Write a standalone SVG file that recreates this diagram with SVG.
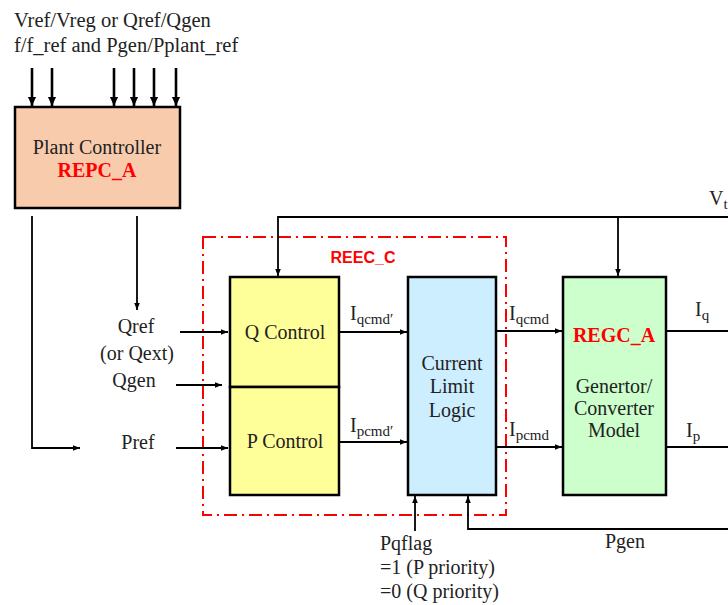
<svg xmlns="http://www.w3.org/2000/svg" width="728" height="605" viewBox="0 0 728 605">
<defs>
<style>
.t{font-family:"Liberation Serif","Times New Roman",serif;font-size:20px;fill:#222}
.c{text-anchor:middle}
.red{fill:#f00;font-weight:bold}
.box{stroke:#000;stroke-width:2.5}
.ln{stroke:#000;stroke-width:1.8;fill:none}
.thick{stroke:#000;stroke-width:2.6;fill:none}
.sub{font-size:15px}
</style>
<marker id="ah" viewBox="0 0 10 10" refX="10" refY="5" markerWidth="4" markerHeight="4" orient="auto" markerUnits="strokeWidth">
<path d="M0,1 L10,5 L0,9 z" fill="#000"/>
</marker>
<marker id="ahb" viewBox="0 0 10 10" refX="10" refY="5" markerWidth="3.6" markerHeight="3.6" orient="auto" markerUnits="strokeWidth">
<path d="M0,0.5 L10,5 L0,9.5 z" fill="#000"/>
</marker>
</defs>
<rect width="728" height="605" fill="#fff"/>

<g id="title-text">
<text class="t" x="14" y="27" style="font-size:20.5px">Vref/Vreg or Qref/Qgen</text>
<text class="t" x="14" y="52" style="font-size:20.5px">f/f_ref and Pgen/Pplant_ref</text>
</g>

<g id="reec-frame">
<rect x="203" y="237" width="303" height="278" fill="none" stroke="#f00" stroke-width="2" stroke-dasharray="13,5,2,5"/>
<text x="363" y="263" text-anchor="middle" style="font-family:'Liberation Sans',Arial,sans-serif;font-size:16px;font-weight:bold;fill:#f00">REEC_C</text>
</g>

<g id="connectors">
<line class="thick" x1="32" y1="68" x2="32" y2="106" marker-end="url(#ahb)"/>
<line class="thick" x1="52" y1="68" x2="52" y2="106" marker-end="url(#ahb)"/>
<line class="thick" x1="114" y1="68" x2="114" y2="106" marker-end="url(#ahb)"/>
<line class="thick" x1="134" y1="68" x2="134" y2="106" marker-end="url(#ahb)"/>
<line class="thick" x1="154" y1="68" x2="154" y2="106" marker-end="url(#ahb)"/>
<line class="thick" x1="176" y1="68" x2="176" y2="106" marker-end="url(#ahb)"/>
<polyline class="ln" points="32,216 32,448 80,448" marker-end="url(#ah)"/>
<line class="ln" x1="137" y1="216" x2="137" y2="310" marker-end="url(#ah)"/>
<line class="ln" x1="180" y1="332" x2="228" y2="332" marker-end="url(#ah)"/>
<line class="ln" x1="176" y1="385" x2="222" y2="385" marker-end="url(#ah)"/>
<line class="ln" x1="176" y1="448" x2="228" y2="448" marker-end="url(#ah)"/>
<polyline class="ln" points="728,217 278,217 278,276" marker-end="url(#ah)"/>
<line class="ln" x1="618" y1="217" x2="618" y2="276" marker-end="url(#ah)"/>
<line class="ln" x1="340" y1="332" x2="407" y2="332" marker-end="url(#ah)"/>
<line class="ln" x1="340" y1="442" x2="407" y2="442" marker-end="url(#ah)"/>
<line class="ln" x1="497" y1="331" x2="562" y2="331" marker-end="url(#ah)"/>
<line class="ln" x1="497" y1="447" x2="562" y2="447" marker-end="url(#ah)"/>
<line class="ln" x1="667" y1="331" x2="728" y2="331"/>
<line class="ln" x1="667" y1="447" x2="728" y2="447"/>
<line class="ln" x1="415" y1="531" x2="415" y2="496" marker-end="url(#ah)"/>
<polyline class="ln" points="728,529 468,529 468,496" marker-end="url(#ah)"/>
</g>

<g id="plant-controller">
<rect class="box" x="15" y="107" width="165" height="101" fill="#f8cbad"/>
<text class="t c" x="97" y="154">Plant Controller</text>
<text class="t c red" x="97" y="177">REPC_A</text>
</g>

<g id="q-control">
<rect class="box" x="230" y="277" width="109" height="110" fill="#ffff99"/>
<text class="t c" x="285" y="339">Q Control</text>
</g>

<g id="p-control">
<rect class="box" x="230" y="387" width="109" height="108" fill="#ffff99"/>
<text class="t c" x="285" y="448">P Control</text>
</g>

<g id="current-limit-logic">
<rect class="box" x="408" y="277" width="88" height="218" fill="#cceeff"/>
<text class="t c" x="452" y="370">Current</text>
<text class="t c" x="452" y="393">Limit</text>
<text class="t c" x="452" y="417">Logic</text>
</g>

<g id="regc-a">
<rect class="box" x="563" y="277" width="103" height="218" fill="#ccffcc"/>
<text class="t c red" x="614" y="342">REGC_A</text>
<text class="t c" x="614" y="393">Genertor/</text>
<text class="t c" x="614" y="415">Converter</text>
<text class="t c" x="614" y="437">Model</text>
</g>

<g id="labels">
<text class="t c" x="136" y="333">Qref</text>
<text class="t c" x="137" y="360">(or Qext)</text>
<text class="t c" x="134" y="387">Qgen</text>
<text class="t c" x="138" y="449">Pref</text>
<text class="t" x="350" y="320">I<tspan class="sub" dy="4">qcmd′</tspan></text>
<text class="t" x="350" y="432">I<tspan class="sub" dy="4">pcmd′</tspan></text>
<text class="t" x="509" y="320">I<tspan class="sub" dy="4">qcmd</tspan></text>
<text class="t" x="509" y="436">I<tspan class="sub" dy="4">pcmd</tspan></text>
<text class="t" x="695" y="316">I<tspan class="sub" dy="4">q</tspan></text>
<text class="t" x="686" y="437">I<tspan class="sub" dy="4">p</tspan></text>
<text class="t" x="709" y="205">V<tspan class="sub" dy="4">t</tspan></text>
<text class="t" x="380" y="550">Pqflag</text>
<text class="t" x="380" y="574">=1 (P priority)</text>
<text class="t" x="380" y="598">=0 (Q priority)</text>
<text class="t c" x="625" y="548">Pgen</text>
</g>
</svg>
